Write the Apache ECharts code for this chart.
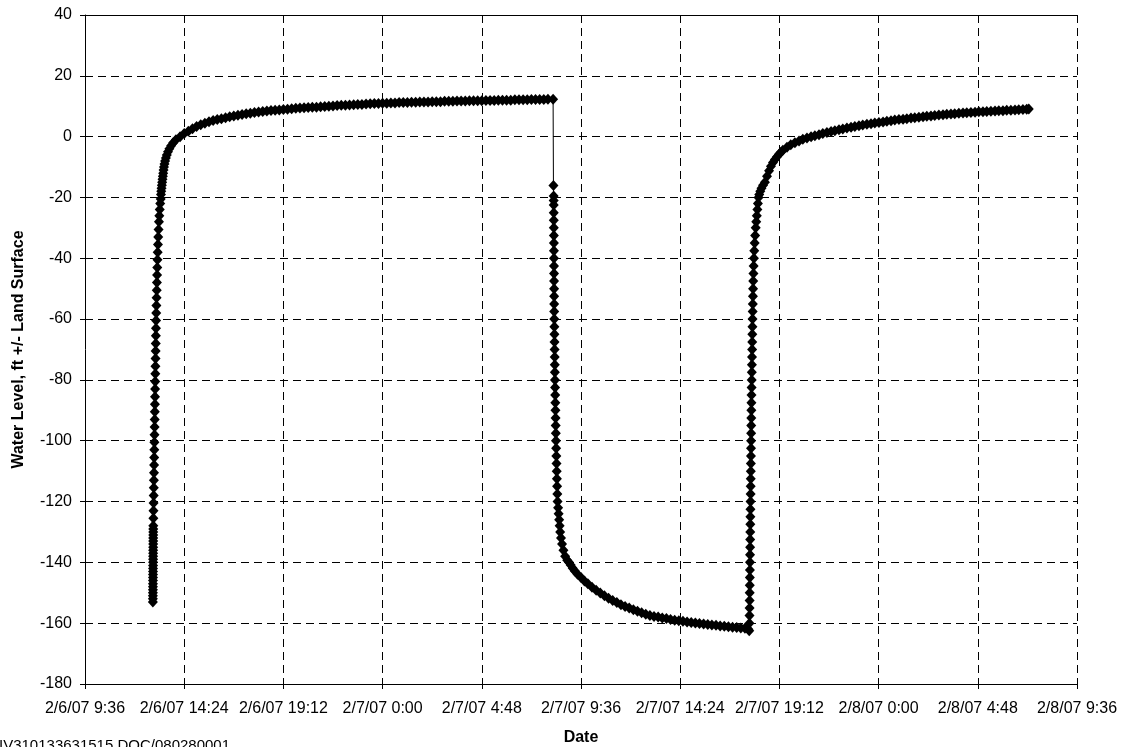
<!DOCTYPE html>
<html>
<head>
<meta charset="utf-8">
<title>Water Level</title>
<script src="https://cdn.jsdelivr.net/npm/echarts@6/dist/echarts.min.js"></script>
<style>
  html, body { margin: 0; padding: 0; background: #fff; }
  #chart { width: 1125px; height: 747px; }
</style>
</head>
<body>
<div id="chart"></div>
<script>
// Elapsed minutes after 2/6/07 9:36 and water level (ft +/- land surface).
// First recovery, after pumping stopped.
const recovery1 = [
  [197.0,-153],[197.05,-152],[197.1,-151],[197.15,-150],[197.2,-149],[197.25,-148],[197.3,-147],[197.35,-146],
  [197.4,-145],[197.45,-144],[197.5,-143],[197.55,-142],[197.6,-141],[197.65,-140],[197.7,-139],[197.75,-138],
  [197.8,-137],[197.85,-136],[197.9,-135],[197.95,-134],[198.0,-133],[198.05,-132],[198.1,-131],[198.15,-130],
  [198.2,-129],[198.25,-128],
  [198.5,-125.5],[198.8,-123],[199.1,-120.5],[199.4,-118],[199.7,-115.5],[200.0,-113],[200.3,-110.5],[200.6,-108],
  [200.9,-105.5],[201.2,-103],[201.5,-100.5],[201.8,-98],[202.1,-95.5],[202.4,-93],[202.7,-90.5],[203.0,-88],
  [203.3,-85.5],[203.6,-83],[203.9,-80.5],[204.2,-78],[204.5,-75.5],[204.8,-73],[205.1,-70.5],[205.4,-68],
  [205.7,-65.5],[206.0,-63],[206.3,-60.5],
  [206.8,-58],[207.3,-55.5],[207.8,-53],[208.3,-50.5],[208.8,-48],[209.3,-45.5],[209.8,-43],[210.4,-40.5],
  [211.0,-38],[211.8,-35.5],[212.6,-33],[213.6,-30.5],[214.7,-28],[215.8,-26],[217.0,-24],[218.4,-22],[219.8,-20.5],
  [220.6,-19],[221.4,-18],[222.2,-17],[223.1,-16],[224.0,-15],[225.0,-14],[226.0,-13],[227.0,-12],[228.0,-11],
  [229.2,-10],[230.8,-9],[232.6,-8],[234.8,-7],[237.5,-6],[241.0,-5],[245.0,-4],[250.0,-3],[256.0,-2],[264.0,-1],
  [276,0.0],[288,1.0],[300,1.8],[312,2.6],[324,3.3],[336,3.9],[348,4.4],[360,4.9],[372,5.3],[384,5.6],
  [396,5.9],[408,6.2],[420,6.5],[432,6.8],[444,7.0],[456,7.3],[468,7.5],[480,7.7],[492,7.9],[504,8.1],
  [516,8.3],[528,8.4],[540,8.6],[552,8.7],[564,8.8],[576,8.9],[588,9.0],[600,9.2],[612,9.3],[624,9.4],
  [636,9.5],[648,9.6],[660,9.7],[672,9.7],[684,9.8],[696,9.9],[708,10.0],[720,10.1],[732,10.2],[744,10.3],
  [756,10.3],[768,10.4],[780,10.5],[792,10.6],[804,10.6],[816,10.7],[828,10.8],[840,10.9],[852,10.9],[864,11.0],
  [876,11.0],[888,11.1],[900,11.1],[912,11.2],[924,11.2],[936,11.2],[948,11.3],[960,11.3],[972,11.4],[984,11.4],
  [996,11.4],[1008,11.5],[1020,11.5],[1032,11.5],[1044,11.6],[1056,11.6],[1068,11.6],[1080,11.7],[1092,11.7],
  [1104,11.7],[1116,11.8],[1128,11.8],[1140,11.8],[1152,11.8],[1164,11.9],[1176,11.9],[1188,11.9],[1200,12.0],
  [1212,12.0],[1224,12.0],[1236,12.0],[1248,12.1],[1260,12.1],[1272,12.1],[1284,12.1],[1296,12.2],[1308,12.2],
  [1320,12.2],[1332,12.2],[1344,12.3],[1359,12.3]
];

// Second pumping period (drawdown).
const drawdown = [
  [1360.0,-16.1],[1360.6,-19.5],[1360.7,-21],[1360.8,-22.5],[1360.9,-25],[1361.0,-27.5],[1361.1,-30],[1361.2,-32.5],
  [1361.3,-35],[1361.4,-37.5],[1361.5,-40],[1361.6,-42.5],[1361.7,-45],[1361.8,-47.5],[1361.9,-50],[1362.0,-52.5],
  [1362.1,-55],[1362.2,-57.5],[1362.4,-60],[1362.65,-62.5],[1362.9,-65],[1363.15,-67.5],[1363.4,-70],[1363.65,-72.5],
  [1363.9,-75],[1364.15,-77.5],[1364.4,-80],[1364.75,-82.5],[1365.1,-85],[1365.5,-87.5],[1365.85,-90],[1366.2,-92.5],
  [1366.55,-95],[1366.9,-97.5],[1367.3,-100],[1367.8,-102.5],[1368.4,-105],[1368.9,-107.5],[1369.5,-110],[1370.0,-112.5],
  [1370.6,-115],[1371.3,-117.5],[1372.0,-120],[1373.5,-122],[1375.0,-124],[1376.6,-126],[1378.0,-128],[1379.5,-130],
  [1382.0,-132],[1385.0,-134],[1389.0,-136],[1394.0,-138],[1400.0,-139.3],[1405.0,-140],
  [1410,-140.9],[1416,-141.9],[1422,-142.8],[1430,-143.9],[1440,-145.0],[1450,-146.1],[1460,-147.0],[1472,-148.2],
  [1484,-149.2],[1496,-150.1],[1508,-151.0],[1520,-151.8],[1532,-152.5],[1544,-153.2],[1556,-153.9],[1568,-154.5],
  [1580,-155.0],[1592,-155.6],[1604,-156.1],[1616,-156.6],[1628,-157.1],[1640,-157.5],[1652,-157.8],[1664,-158.0],
  [1676,-158.3],[1688,-158.5],[1700,-158.8],[1712,-159.0],[1724,-159.2],[1736,-159.4],[1748,-159.6],[1760,-159.8],
  [1772,-159.9],[1784,-160.1],[1796,-160.3],[1808,-160.4],[1820,-160.6],[1832,-160.7],[1844,-160.9],[1856,-161.0],
  [1868,-161.2],[1880,-161.3],[1892,-161.4],[1904,-161.6],[1916,-161.7],[1926,-162.0]
];

// Second recovery.
const recovery2 = [
  [1928.4,-162.5],[1929.0,-160],[1929.2,-157.5],[1929.4,-155],[1929.6,-152.5],[1929.8,-150],[1930.0,-147.5],
  [1930.2,-145],[1930.4,-142.5],[1930.6,-140],[1930.8,-137.5],[1931.0,-135],[1931.2,-132.5],[1931.4,-130],
  [1931.6,-127.5],[1931.8,-125],[1932.0,-122.5],[1932.2,-120],[1932.4,-117.5],[1932.6,-115],[1932.8,-112.5],
  [1933.0,-110],[1933.2,-107.5],[1933.4,-105],[1933.6,-102.5],[1933.8,-100],[1934.0,-97.5],[1934.2,-95],
  [1934.4,-92.5],[1934.6,-90],[1934.8,-87.5],[1935.0,-85],[1935.3,-82.5],[1935.6,-80],[1935.9,-77.5],[1936.2,-75],
  [1936.5,-72.5],[1936.8,-70],[1937.1,-67.5],[1937.4,-65],[1937.7,-62.5],[1938.0,-60],
  [1938.4,-57.5],[1938.8,-55],[1939.2,-52.5],[1939.6,-50],[1940.0,-47.5],[1940.6,-45],[1941.2,-42.5],[1942.0,-40],
  [1943.0,-37.5],[1944.2,-35],[1945.6,-32.5],[1947.2,-30],[1948.8,-28],[1950.4,-26],[1952.0,-24],[1953.6,-22],[1955.4,-20],
  [1957.5,-19],[1960.5,-18],[1964,-17],[1968.5,-16],[1974,-15],[1980,-13],[1986,-11.2],[1991.5,-9.7],[1997.3,-8.5],
  [2003,-7.5],[2009,-6.6],[2014.7,-5.8],[2020.5,-5.1],[2026,-4.5],[2038,-3.5],[2049,-2.7],[2061,-2.0],[2073,-1.4],
  [2084,-0.9],[2096,-0.45],[2108,-0.05],[2119,0.3],[2131,0.65],[2142,1.0],[2154,1.35],[2166,1.65],[2177,1.95],
  [2189,2.25],[2200,2.55],[2212,2.85],[2224,3.1],[2235,3.35],[2247,3.6],[2258,3.85],[2270,4.05],[2282,4.25],
  [2293,4.45],[2305,4.65],[2317,4.85],[2328,5.05],[2340,5.25],[2351,5.45],[2363,5.6],[2375,5.75],[2386,5.9],
  [2398,6.1],[2409,6.25],[2421,6.4],[2433,6.55],[2444,6.7],[2456,6.8],[2467,6.95],[2479,7.1],[2491,7.2],
  [2502,7.35],[2514,7.45],[2525,7.55],[2537,7.65],[2549,7.75],[2560,7.85],[2572,7.95],[2584,8.05],[2595,8.15],
  [2607,8.2],[2618,8.3],[2630,8.35],[2642,8.45],[2653,8.5],[2665,8.55],[2676,8.65],[2688,8.7],[2700,8.75],
  [2711,8.85],[2723,8.9],[2734,9.0],[2740,9.05]
];

// Date tick labels, one every 4.8 hours (288 minutes) from 2/6/07 9:36.
const dateTicks = ['2/6/07 9:36','2/6/07 14:24','2/6/07 19:12','2/7/07 0:00','2/7/07 4:48',
  '2/7/07 9:36','2/7/07 14:24','2/7/07 19:12','2/8/07 0:00','2/8/07 4:48','2/8/07 9:36'];
const tickStepMin = 288;

const levelSeries = recovery1.concat(drawdown, recovery2);

const FONT = '"Liberation Sans", Arial, Helvetica, sans-serif';
const dashed = { color: '#000', width: 1, type: [8, 5] };

const chart = echarts.init(document.getElementById('chart'), null, { renderer: 'canvas' });
chart.setOption({
  animation: false,
  backgroundColor: '#ffffff',
  textStyle: { fontFamily: FONT, color: '#000' },
  grid: { left: 85, right: 48, top: 15, bottom: 63, containLabel: false, outerBoundsMode: 'none' },
  xAxis: [{
    type: 'value',
    min: 0,
    max: tickStepMin * (dateTicks.length - 1),
    interval: tickStepMin,
    name: 'Date',
    nameLocation: 'middle',
    nameGap: 46,
    nameTextStyle: { fontFamily: FONT, fontWeight: 'bold', fontSize: 16, color: '#000' },
    axisLine: { show: true, onZero: false, lineStyle: { color: '#000', width: 1 } },
    axisTick: { show: true, length: 5, lineStyle: { color: '#000', width: 1 } },
    axisLabel: {
      fontFamily: FONT, fontSize: 16, color: '#000', margin: 17,
      showMinLabel: true, showMaxLabel: true,
      formatter: v => dateTicks[Math.round(v / tickStepMin)] || ''
    },
    splitLine: { show: true, lineStyle: dashed }
  }, {
    type: 'value',
    position: 'top',
    min: 0,
    max: tickStepMin * (dateTicks.length - 1),
    axisLine: { show: true, onZero: false, lineStyle: { color: '#000', width: 1 } },
    axisTick: { show: false },
    axisLabel: { show: false },
    splitLine: { show: false }
  }],
  yAxis: {
    type: 'value',
    min: -180,
    max: 40,
    interval: 20,
    name: 'Water Level, ft +/- Land Surface',
    nameLocation: 'middle',
    nameGap: 58,
    nameRotate: 90,
    nameTextStyle: { fontFamily: FONT, fontWeight: 'bold', fontSize: 16, color: '#000' },
    axisLine: { show: true, onZero: false, lineStyle: { color: '#000', width: 1 } },
    axisTick: { show: true, length: 5, lineStyle: { color: '#000', width: 1 } },
    axisLabel: { fontFamily: FONT, fontSize: 16, color: '#000', margin: 13 },
    splitLine: { show: true, lineStyle: dashed }
  },
  graphic: [{
    type: 'text',
    left: -1,
    top: 738,
    style: { text: 'IV310133631515.DOC/080280001', font: '15px ' + FONT, fill: '#000' }
  }],
  series: [{
    type: 'line',
    xAxisIndex: 0,
    data: levelSeries,
    symbol: 'diamond',
    symbolSize: [10, 11],
    showAllSymbol: true,
    itemStyle: { color: '#000', borderWidth: 0 },
    lineStyle: { color: '#000', width: 1 },
    emphasis: { disabled: true },
    clip: false
  }]
});
</script>
</body>
</html>
